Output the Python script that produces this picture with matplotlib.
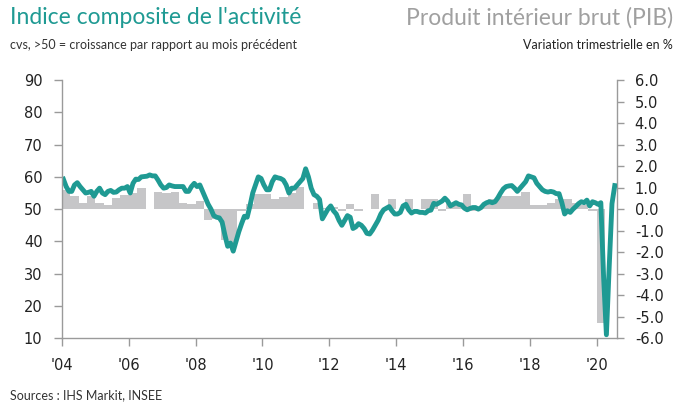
import matplotlib
matplotlib.use("Agg")
import matplotlib.pyplot as plt
import numpy as np

# PMI composite France, mensuel, janv. 2004 -> juil. 2020
pmi = [
    59.3, 57.0, 55.5, 55.5, 57.5, 58.2, 57.0, 56.0, 55.0, 55.2, 55.5, 54.0,  # 2004
    55.5, 56.5, 55.0, 54.5, 55.5, 55.8, 55.2, 55.3, 56.0, 56.5, 56.5, 57.0,  # 2005
    55.0, 58.0, 59.3, 59.2, 60.0, 60.1, 60.2, 60.6, 60.3, 60.3, 59.0, 57.5,  # 2006
    56.5, 56.7, 57.5, 57.2, 57.0, 57.0, 57.0, 57.0, 55.5, 55.5, 57.0, 58.0,  # 2007
    57.0, 57.5, 55.5, 53.5, 51.5, 50.0, 48.0, 47.5, 47.3, 46.0, 42.0, 38.5,  # 2008
    39.5, 37.0, 40.0, 43.0, 45.5, 47.8, 47.5, 51.0, 55.0, 57.5, 60.0, 59.5,  # 2009
    57.5, 56.0, 56.0, 58.5, 60.0, 59.7, 59.5, 59.0, 57.5, 55.0, 56.5, 56.5,  # 2010
    57.5, 58.5, 59.5, 62.5, 60.0, 56.5, 54.5, 54.0, 53.0, 47.0, 48.5, 50.0,  # 2011
    51.0, 49.5, 48.5, 46.5, 45.0, 46.5, 48.0, 47.5, 44.0, 44.5, 45.5, 45.0,  # 2012
    44.0, 42.5, 42.3, 43.5, 45.0, 46.5, 48.5, 49.8, 50.3, 50.8, 49.5, 48.5,  # 2013
    48.5, 49.0, 51.0, 51.5, 49.8, 48.8, 49.3, 49.3, 49.0, 49.0, 48.8, 49.5,  # 2014
    49.7, 51.8, 51.5, 52.0, 52.5, 53.4, 52.5, 51.0, 51.5, 52.0, 51.5, 51.3,  # 2015
    50.3, 49.8, 50.2, 50.5, 50.5, 50.0, 50.5, 51.5, 52.0, 52.3, 52.0, 52.3,  # 2016
    53.5, 55.0, 56.3, 57.0, 57.2, 57.3, 56.5, 55.5, 56.5, 57.5, 58.5, 60.3,  # 2017
    60.0, 59.7, 58.0, 57.0, 56.0, 55.5, 55.3, 55.5, 55.3, 54.8, 54.8, 52.0,  # 2018
    48.5, 49.5, 49.0, 50.0, 50.8, 51.7, 52.3, 52.0, 52.8, 51.0, 52.3, 52.0,  # 2019
    51.5, 52.0, 28.9, 11.1, 32.1, 51.7, 57.3,                                # 2020
]

# PIB, variation trimestrielle en %, T1 2004 -> T1 2020
pib = [
    0.9, 0.6, 0.3, 0.6,      # 2004
    0.3, 0.2, 0.5, 0.65,     # 2005
    0.75, 1.0, 0.0, 0.8,     # 2006
    0.75, 0.8, 0.3, 0.25,    # 2007
    0.4, -0.5, -0.45, -1.45, # 2008
    -1.75, -0.1, 0.25, 0.7,  # 2009
    0.7, 0.45, 0.55, 0.75,   # 2010
    1.05, 0.0, 0.3, 0.05,    # 2011
    0.1, -0.1, 0.25, -0.1,   # 2012
    0.0, 0.7, 0.0, 0.45,     # 2013
    0.0, 0.45, 0.0, 0.45,    # 2014
    0.45, -0.1, 0.3, 0.3,    # 2015
    0.7, -0.1, 0.2, 0.45,    # 2016
    0.6, 0.6, 0.6, 0.82,     # 2017
    0.2, 0.2, 0.3, 0.45,     # 2018
    0.45, 0.3, 0.2, -0.1,    # 2019
    -5.3,                    # 2020
]

annees = list(range(2004, 2021, 2))
etiquettes = ["'" + str(a)[2:] for a in annees]

teal = '#1f9a93'
gris_barre = '#c6c6c8'
gris_axe = '#9a9a9a'

x_pmi = 2004 + (np.arange(len(pmi)) + 0.5) / 12.0
x_pib = 2004 + np.arange(len(pib)) * 0.25

fig = plt.figure(figsize=(6.78, 4.03), dpi=100)
ax1 = fig.add_axes([0.0914, 0.1605, 0.9096 - 0.0914, 0.8015 - 0.1605])
ax2 = ax1.twinx()

ax2.bar(x_pib, pib, width=0.25, align='edge', color=gris_barre, linewidth=0)
ax1.plot(x_pmi, pmi, color=teal, linewidth=3.5, solid_joinstyle='round')

# la courbe au-dessus des barres
ax1.set_zorder(ax2.get_zorder() + 1)
ax1.patch.set_visible(False)

ax1.set_xlim(2004, 2020.6)
ax1.set_ylim(10, 90)
ax1.set_yticks(range(10, 91, 10))
ax2.set_ylim(-6, 6)
ax2.set_yticks(np.arange(-6, 6.1, 1))
ax2.set_yticklabels(['%.1f' % v for v in np.arange(-6, 6.1, 1)])
ax1.set_xticks(annees)
ax1.set_xticklabels(etiquettes)

for ax in (ax1, ax2):
    ax.spines['top'].set_visible(False)
    for s in ax.spines.values():
        s.set_color(gris_axe)
        s.set_linewidth(1.0)
ax1.spines['right'].set_visible(False)
ax2.spines['left'].set_visible(False)
ax2.spines['bottom'].set_visible(False)

ax1.tick_params(axis='both', direction='out', length=6, width=1, color=gris_axe,
                labelsize=10.5, labelcolor='#222222', pad=8)
ax2.tick_params(axis='y', direction='out', length=5, width=1, color=gris_axe,
                labelsize=10.5, labelcolor='#222222', pad=8)

fig.text(10 / 678, 1 - 18 / 403, "Indice composite de l'activité", color=teal,
         fontsize=16.5, family='Lato', va='center', ha='left')
fig.text(10 / 678, 1 - 45 / 403, "cvs, >50 = croissance par rapport au mois précédent",
         color='#333333', fontsize=9, family='Lato', va='center', ha='left')
fig.text(673 / 678, 1 - 18 / 403, "Produit intérieur brut (PIB)", color='#a0a0a0',
         fontsize=16.5, family='Lato', va='center', ha='right')
fig.text(673 / 678, 1 - 45 / 403, "Variation trimestrielle en %", color='#222222',
         fontsize=9, family='Lato', va='center', ha='right')
fig.text(10 / 678, 2 / 403, "Sources : IHS Markit, INSEE", color='#333333',
         fontsize=9, family='Lato', va='bottom', ha='left')

fig.savefig('out.png', dpi=100)
